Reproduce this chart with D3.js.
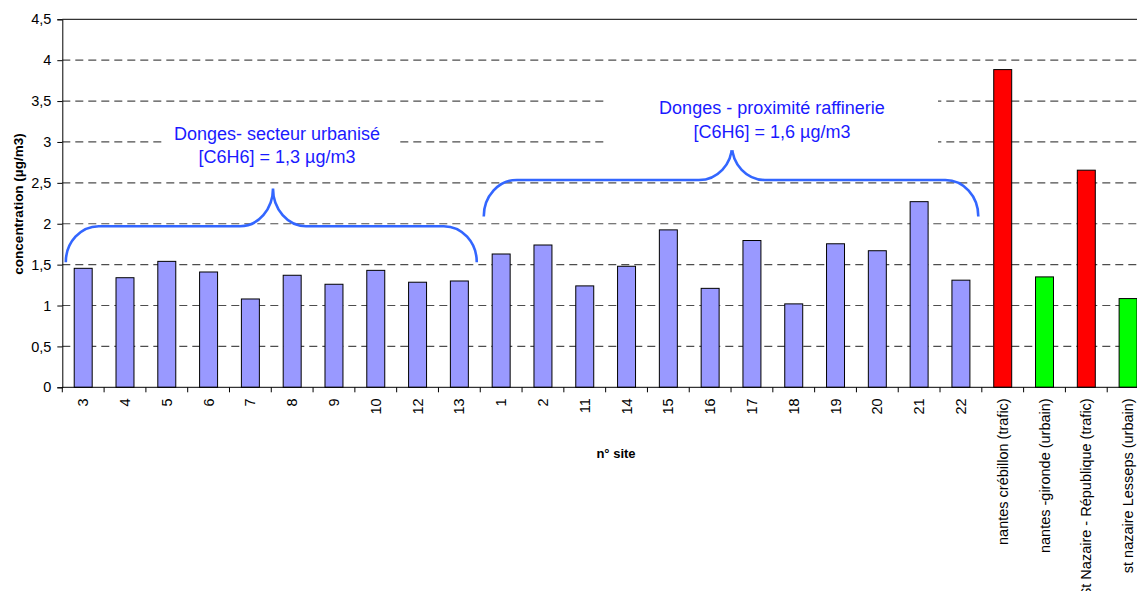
<!DOCTYPE html>
<html>
<head>
<meta charset="utf-8">
<script src="https://cdn.jsdelivr.net/npm/d3@7"></script>
<style>
  html, body { margin: 0; padding: 0; background: #fff; overflow: hidden; }
  svg { display: block; font-family: "Liberation Sans", Arial, sans-serif; }
</style>
</head>
<body>
<svg id="chart" width="1137" height="591"></svg>
<script>
// Sites (x categories) and measured benzene concentrations (µg/m3)
const sites = ["3", "4", "5", "6", "7", "8", "9", "10", "12", "13",
  "1", "2", "11", "14", "15", "16", "17", "18", "19", "20", "21", "22",
  "nantes crébillon (trafic)", "nantes -gironde (urbain)",
  "St Nazaire - République (trafic)", "st nazaire Lesseps (urbain)"];
const concentrations = [1.455, 1.34, 1.54, 1.41, 1.08, 1.37, 1.26, 1.43, 1.285, 1.30,
  1.63, 1.74, 1.24, 1.48, 1.925, 1.21, 1.795, 1.02, 1.755, 1.67, 2.27, 1.31,
  3.885, 1.35, 2.655, 1.085];
// Site type: donges sites, traffic stations, urban background stations
const siteTypes = ["donges", "donges", "donges", "donges", "donges", "donges", "donges", "donges", "donges", "donges",
  "donges", "donges", "donges", "donges", "donges", "donges", "donges", "donges", "donges", "donges", "donges", "donges",
  "trafic", "urbain", "trafic", "urbain"];
const yTicks = [0, 0.5, 1, 1.5, 2, 2.5, 3, 3.5, 4, 4.5];

// Group braces: first/last site covered, level of the bar, tip and peak values
const braceGroups = [
  { first: "3", last: "13", level: 1.97, tip: 1.53, peak: 2.43, peakX: 273,
    lines: ["Donges- secteur urbanisé", "[C6H6] = 1,3 µg/m3"], textX: 277, textY: 3.03, box: [162, 400, 3.35, 2.7] },
  { first: "1", last: "22", level: 2.535, tip: 2.09, peak: 2.96, peakX: 732,
    lines: ["Donges - proximité raffinerie", "[C6H6] = 1,6 µg/m3"], textX: 772, textY: 3.34, box: [608, 938, 3.85, 2.9] }
];

const colors = { donges: "#9999ff", trafic: "#ff0000", urbain: "#00ff00" };

const svg = d3.select("#chart");
const plotLeft = 62.3, plotRight = 1149, plotTop = 19.3, plotBottom = 387.3;

const x = d3.scaleBand().domain(sites).range([plotLeft, plotRight]).padding(0);
const y = d3.scaleLinear().domain([0, 4.5]).range([plotBottom, plotTop]);

// Horizontal dashed gridlines
svg.append("g").selectAll("line")
  .data(yTicks.filter(d => d > 0 && d < 4.5))
  .join("line")
  .attr("x1", plotLeft).attr("x2", plotRight)
  .attr("y1", d => y(d)).attr("y2", d => y(d))
  .attr("stroke", "#4d4d4d").attr("stroke-width", 1.2)
  .attr("stroke-dasharray", "8,5");

// Top frame line
svg.append("line").attr("x1", plotLeft).attr("x2", plotRight)
  .attr("y1", y(4.5)).attr("y2", y(4.5)).attr("stroke", "#000").attr("stroke-width", 1);

// Bars
const barW = x.bandwidth() * 0.43;
svg.append("g").selectAll("rect")
  .data(sites.map((s, i) => ({ site: s, value: concentrations[i], type: siteTypes[i] })))
  .join("rect")
  .attr("x", d => x(d.site) + (x.bandwidth() - barW) / 2)
  .attr("y", d => y(d.value))
  .attr("width", barW)
  .attr("height", d => y(0) - y(d.value))
  .attr("fill", d => colors[d.type])
  .attr("stroke", "#000").attr("stroke-width", 1);

// Y axis
const yAxis = svg.append("g").attr("transform", `translate(${plotLeft},0)`)
  .call(d3.axisLeft(y).tickValues(yTicks).tickSize(5).tickPadding(6)
    .tickFormat(d => d3.format("")(d).replace(".", ",")));
yAxis.select(".domain").attr("stroke", "#000");
yAxis.selectAll(".tick line").attr("stroke", "#000");
yAxis.selectAll(".tick text").attr("font-size", "14.5px").attr("fill", "#000")
  .attr("font-family", "Liberation Sans, Arial, sans-serif");

// X axis: baseline, boundary ticks, rotated labels
svg.append("line").attr("x1", plotLeft).attr("x2", plotRight)
  .attr("y1", plotBottom).attr("y2", plotBottom).attr("stroke", "#000").attr("stroke-width", 1);
svg.append("g").selectAll("line")
  .data(sites)
  .join("line")
  .attr("x1", d => x(d)).attr("x2", d => x(d))
  .attr("y1", plotBottom).attr("y2", plotBottom + 5)
  .attr("stroke", "#000");
svg.append("g").selectAll("text")
  .data(sites)
  .join("text")
  .attr("transform", d => `translate(${x(d) + x.bandwidth() / 2 + 5},${plotBottom + 11}) rotate(-90)`)
  .attr("text-anchor", "end")
  .attr("font-size", "14.5px")
  .attr("fill", "#000")
  .text(d => d);

// Axis titles
svg.append("text").attr("x", 616).attr("y", 458)
  .attr("text-anchor", "middle").attr("font-size", "13px").attr("font-weight", "bold")
  .text("n° site");
svg.append("text").attr("transform", "translate(23,204) rotate(-90)")
  .attr("text-anchor", "middle").attr("font-size", "13.5px").attr("font-weight", "bold")
  .text("concentration (µg/m3)");

// Braces grouping the Donges sites, with their mean concentration
const K = 0.5523;
function bracePath(g) {
  const x0 = x(g.first) + 3.5, x1 = x(g.last) + x.bandwidth() - 3.5;
  const yl = y(g.level), yt = y(g.tip), yp = y(g.peak);
  const r = 33, ry = yt - yl, rp = 33, ryp = yl - yp, xp = g.peakX;
  const p = d3.path();
  p.moveTo(x0, yt);
  p.bezierCurveTo(x0, yt - ry * K, x0 + r - r * K, yl, x0 + r, yl);
  p.lineTo(xp - rp, yl);
  p.bezierCurveTo(xp - rp + rp * K, yl, xp, yp + ryp * K, xp, yp);
  p.bezierCurveTo(xp, yp + ryp * K, xp + rp - rp * K, yl, xp + rp, yl);
  p.lineTo(x1 - r, yl);
  p.bezierCurveTo(x1 - r + r * K, yl, x1, yt - ry * K, x1, yt);
  return p.toString();
}

const ann = svg.append("g");
braceGroups.forEach(g => {
  ann.append("path").attr("d", bracePath(g))
    .attr("fill", "none").attr("stroke", "#3366ff").attr("stroke-width", 2.6);
  ann.append("rect")
    .attr("x", g.box[0]).attr("width", g.box[1] - g.box[0])
    .attr("y", y(g.box[2])).attr("height", y(g.box[3]) - y(g.box[2]))
    .attr("fill", "#fff");
  g.lines.forEach((t, i) => {
    ann.append("text")
      .attr("x", g.textX).attr("y", y(g.textY) + i * 23.5)
      .attr("text-anchor", "middle").attr("font-size", "18px")
      .attr("fill", "#1a1aff")
      .text(t);
  });
});
</script>
</body>
</html>
